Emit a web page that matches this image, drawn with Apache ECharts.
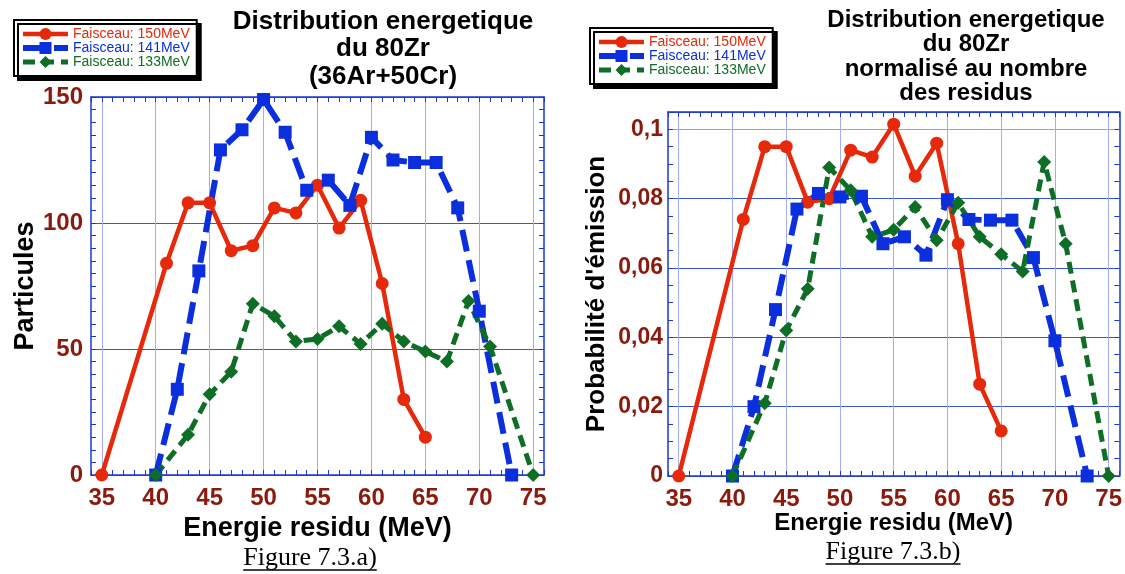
<!DOCTYPE html>
<html>
<head>
<meta charset="utf-8">
<script src="https://cdn.jsdelivr.net/npm/echarts@6/dist/echarts.min.js"></script>
<style>
  html, body { margin: 0; padding: 0; background: #ffffff; }
  #chart { width: 1125px; height: 574px; }
</style>
</head>
<body>
<div id="chart"></div>
<script>
// Residue energy (MeV) tick labels shared by both panels
const energyTicks = [35, 40, 45, 50, 55, 60, 65, 70, 75];

// Beam energies (legend entries)
const beamNames = ['Faisceau: 150MeV', 'Faisceau: 141MeV', 'Faisceau: 133MeV'];

// Residue energies sampled for each beam
const energies150 = [35, 41, 43, 45, 47, 49, 51, 53, 55, 57, 59, 61, 63, 65];
const energies141 = [40, 42, 44, 46, 48, 50, 52, 54, 56, 58, 60, 62, 64, 66, 68, 70, 73];
const energies133 = [40, 43, 45, 47, 49, 51, 53, 55, 57, 59, 61, 63, 65, 67, 69, 71, 75];

// Panel a): counted particles
const particles150 = [0, 84, 108, 108, 89, 91, 106, 104, 115, 98, 109, 76, 30, 15];
const particles141 = [0, 34, 81, 129, 137, 149, 136, 113, 117, 107, 134, 125, 124, 124, 106, 65, 0];
const particles133 = [0, 16, 32, 41, 68, 63, 53, 54, 59, 52, 60, 53, 49, 45, 69, 51, 0];

// Panel b): emission probability normalised to the number of residues
const prob150 = [0, 0.074, 0.095, 0.095, 0.079, 0.080, 0.094, 0.092, 0.1015, 0.0865, 0.096, 0.067, 0.0265, 0.013];
const prob141 = [0, 0.020, 0.048, 0.077, 0.0815, 0.0805, 0.0807, 0.067, 0.069, 0.0637, 0.0797, 0.074, 0.0738, 0.0738, 0.063, 0.039, 0];
const prob133 = [0, 0.021, 0.042, 0.054, 0.089, 0.0824, 0.069, 0.071, 0.0776, 0.068, 0.0788, 0.069, 0.064, 0.059, 0.0906, 0.067, 0];

// Y tick values
const particleTicks = [0, 50, 100, 150];
const probTicks = [0, 0.02, 0.04, 0.06, 0.08, 0.1];

const SANS = '"Liberation Sans", Arial, Helvetica, sans-serif';
const SERIF = '"Liberation Serif", "Times New Roman", serif';
const FRAME = '#1c38d4';
const GRID_V = '#a3adf0';
const GRID_H = '#3a55d8';
const LABEL = '#8c1a0c';
const RED = '#e6290a';
const BLUE = '#0c2fde';
const GREEN = '#0e6e26';

// Line look per beam
const beamStyles = [
  { color: RED,   symbol: 'circle',  size: 13, width: 4.5, type: 'solid' },
  { color: BLUE,  symbol: 'rect',    size: 13, width: 6,   type: [22, 9] },
  { color: GREEN, symbol: 'diamond', size: 14, width: 5,   type: [12, 7] }
];

const zip = (xs, ys) => xs.map((x, i) => [x, ys[i]]);

const chart = echarts.init(document.getElementById('chart'), null, { renderer: 'canvas' });

function energyAxes(g, nameGap, nameSize) {
  return [
    {
      type: 'value', gridIndex: g, min: 34, max: 76, interval: 1, position: 'bottom',
      axisLine: { show: true, lineStyle: { color: FRAME, width: 1.5 } },
      axisTick: { show: true, inside: true, length: 5, lineStyle: { color: FRAME, width: 1 } },
      axisLabel: {
        show: true, margin: 11, color: LABEL, fontFamily: SANS, fontWeight: 'bold', fontSize: 24,
        formatter: v => (energyTicks.indexOf(v) >= 0 ? String(v) : '')
      },
      splitLine: { show: false },
      name: 'Energie residu (MeV)', nameLocation: 'middle', nameGap: nameGap, nameMoveOverlap: false,
      nameTextStyle: { color: '#000', fontFamily: SANS, fontWeight: 'bold', fontSize: nameSize }
    },
    {
      type: 'value', gridIndex: g, min: 34, max: 76, splitNumber: 8, position: 'bottom',
      axisLine: { show: false },
      axisTick: { show: false, customValues: energyTicks },
      axisLabel: { show: false, customValues: energyTicks },
      splitLine: { show: true, lineStyle: { color: GRID_V, width: 1 } }
    },
    {
      type: 'value', gridIndex: g, min: 34, max: 76, interval: 1, position: 'top',
      axisLine: { show: true, lineStyle: { color: FRAME, width: 1.5 } },
      axisTick: { show: true, inside: true, length: 5, lineStyle: { color: FRAME, width: 1 } },
      axisLabel: { show: false },
      splitLine: { show: false }
    }
  ];
}

function valueAxes(g, cfg) {
  const tickStyle = { show: true, inside: true, length: 5, lineStyle: { color: FRAME, width: 1 } };
  const minor = { show: true, splitNumber: cfg.minor, length: 5, lineStyle: { color: FRAME, width: 1 } };
  return [
    {
      type: 'value', gridIndex: g, min: cfg.min, max: cfg.max, interval: cfg.interval, position: 'left',
      axisLine: { show: true, lineStyle: { color: FRAME, width: 1.5 } },
      axisTick: tickStyle,
      minorTick: minor,
      axisLabel: {
        show: true, margin: cfg.margin, color: LABEL, fontFamily: SANS, fontWeight: 'bold', fontSize: cfg.fontSize,
        formatter: cfg.formatter
      },
      splitLine: { show: true, lineStyle: { color: cfg.splitColors, width: 1 } },
      name: cfg.name, nameLocation: 'middle', nameGap: cfg.nameGap, nameRotate: 90,
      nameTextStyle: { color: '#000', fontFamily: SANS, fontWeight: 'bold', fontSize: cfg.nameSize }
    },
    {
      type: 'value', gridIndex: g, min: cfg.min, max: cfg.max, interval: cfg.interval, position: 'right',
      axisLine: { show: true, lineStyle: { color: FRAME, width: 1.5 } },
      axisTick: tickStyle,
      minorTick: minor,
      axisLabel: { show: false },
      splitLine: { show: false }
    }
  ];
}

const xAxes = energyAxes(0, 40, 27).concat(energyAxes(1, 35, 24));
const yAxes = valueAxes(0, {
  min: particleTicks[0], max: particleTicks[particleTicks.length - 1], interval: 50, minor: 10,
  margin: 8, fontSize: 24, name: 'Particules', nameGap: 40, nameSize: 27,
  splitColors: [GRID_H],
  formatter: v => String(v)
}).concat(valueAxes(1, {
  min: 0, max: 0.105, interval: 0.02, minor: 4,
  margin: 5, fontSize: 23, name: "Probabilité d'émission", nameGap: 58, nameSize: 26,
  splitColors: [GRID_H, GRID_H, GRID_H, GRID_H, GRID_H, '#8f9cec', GRID_H],
  formatter: v => (probTicks.some(t => Math.abs(t - v) < 1e-9) ? String(+v.toFixed(2)).replace('.', ',') : '')
}));

function beamSeries(i, xIdx, yIdx, points) {
  const s = beamStyles[i];
  return {
    type: 'line', name: beamNames[i], xAxisIndex: xIdx, yAxisIndex: yIdx, data: points,
    symbol: s.symbol, symbolSize: s.size, showAllSymbol: true,
    lineStyle: { color: s.color, width: s.width, type: s.type, cap: 'butt' },
    itemStyle: { color: s.color, borderWidth: 0 },
    emphasis: { disabled: true },
    animation: false, z: 3
  };
}

const series = [
  beamSeries(0, 0, 0, zip(energies150, particles150)),
  beamSeries(1, 0, 0, zip(energies141, particles141)),
  beamSeries(2, 0, 0, zip(energies133, particles133)),
  beamSeries(0, 3, 2, zip(energies150, prob150)),
  beamSeries(1, 3, 2, zip(energies141, prob141)),
  beamSeries(2, 3, 2, zip(energies133, prob133))
];

function beamLegend(left, top) {
  return {
    orient: 'vertical', left: left, top: top,
    itemWidth: 45, itemHeight: 15, itemGap: 0,
    padding: [7, 7, 7, 6],
    backgroundColor: '#ffffff', borderColor: '#000000', borderWidth: 2,
    shadowColor: '#000000', shadowBlur: 0, shadowOffsetX: 4, shadowOffsetY: 4,
    selectedMode: false,
    textStyle: { fontFamily: SANS, fontSize: 14 },
    data: beamNames.map((n, i) => ({
      name: n,
      textStyle: { color: beamStyles[i].color },
      lineStyle: { width: beamStyles[i].width, type: beamStyles[i].type, color: beamStyles[i].color }
    }))
  };
}

// Figure captions, underlined
const ctx = document.createElement('canvas').getContext('2d');
function caption(text, cx, cy) {
  const font = '26px ' + SERIF;
  ctx.font = font;
  const w = ctx.measureText(text).width;
  return [
    { type: 'text', x: cx, y: cy, silent: true,
      style: { text: text, font: font, fill: '#000', align: 'center', verticalAlign: 'middle', textAlign: 'center', textVerticalAlign: 'middle' } },
    { type: 'line', silent: true,
      shape: { x1: cx - w / 2, y1: cy + 12, x2: cx + w / 2, y2: cy + 12 },
      style: { stroke: '#000', lineWidth: 1.5 } }
  ];
}

chart.setOption({
  animation: false,
  backgroundColor: '#ffffff',
  title: [
    {
      text: 'Distribution energetique\ndu 80Zr\n(36Ar+50Cr)',
      left: 383, top: 8, textAlign: 'center', padding: 0,
      textStyle: { fontFamily: SANS, fontWeight: 'bold', fontSize: 26, lineHeight: 27.5, color: '#000' }
    },
    {
      text: 'Distribution energetique\ndu 80Zr\nnormalisé au nombre\ndes residus',
      left: 966, top: 8, textAlign: 'center', padding: 0,
      textStyle: { fontFamily: SANS, fontWeight: 'bold', fontSize: 24, lineHeight: 24.4, color: '#000' }
    }
  ],
  legend: [beamLegend(14, 20), beamLegend(590, 28)],
  grid: [
    { left: 91, top: 97, width: 453, height: 378, containLabel: false },
    { left: 668, top: 112, width: 454, height: 364, containLabel: false }
  ],
  xAxis: xAxes,
  yAxis: yAxes,
  series: series,
  graphic: caption('Figure 7.3.a)', 310, 558).concat(caption('Figure 7.3.b)', 893, 552))
});
</script>
</body>
</html>
